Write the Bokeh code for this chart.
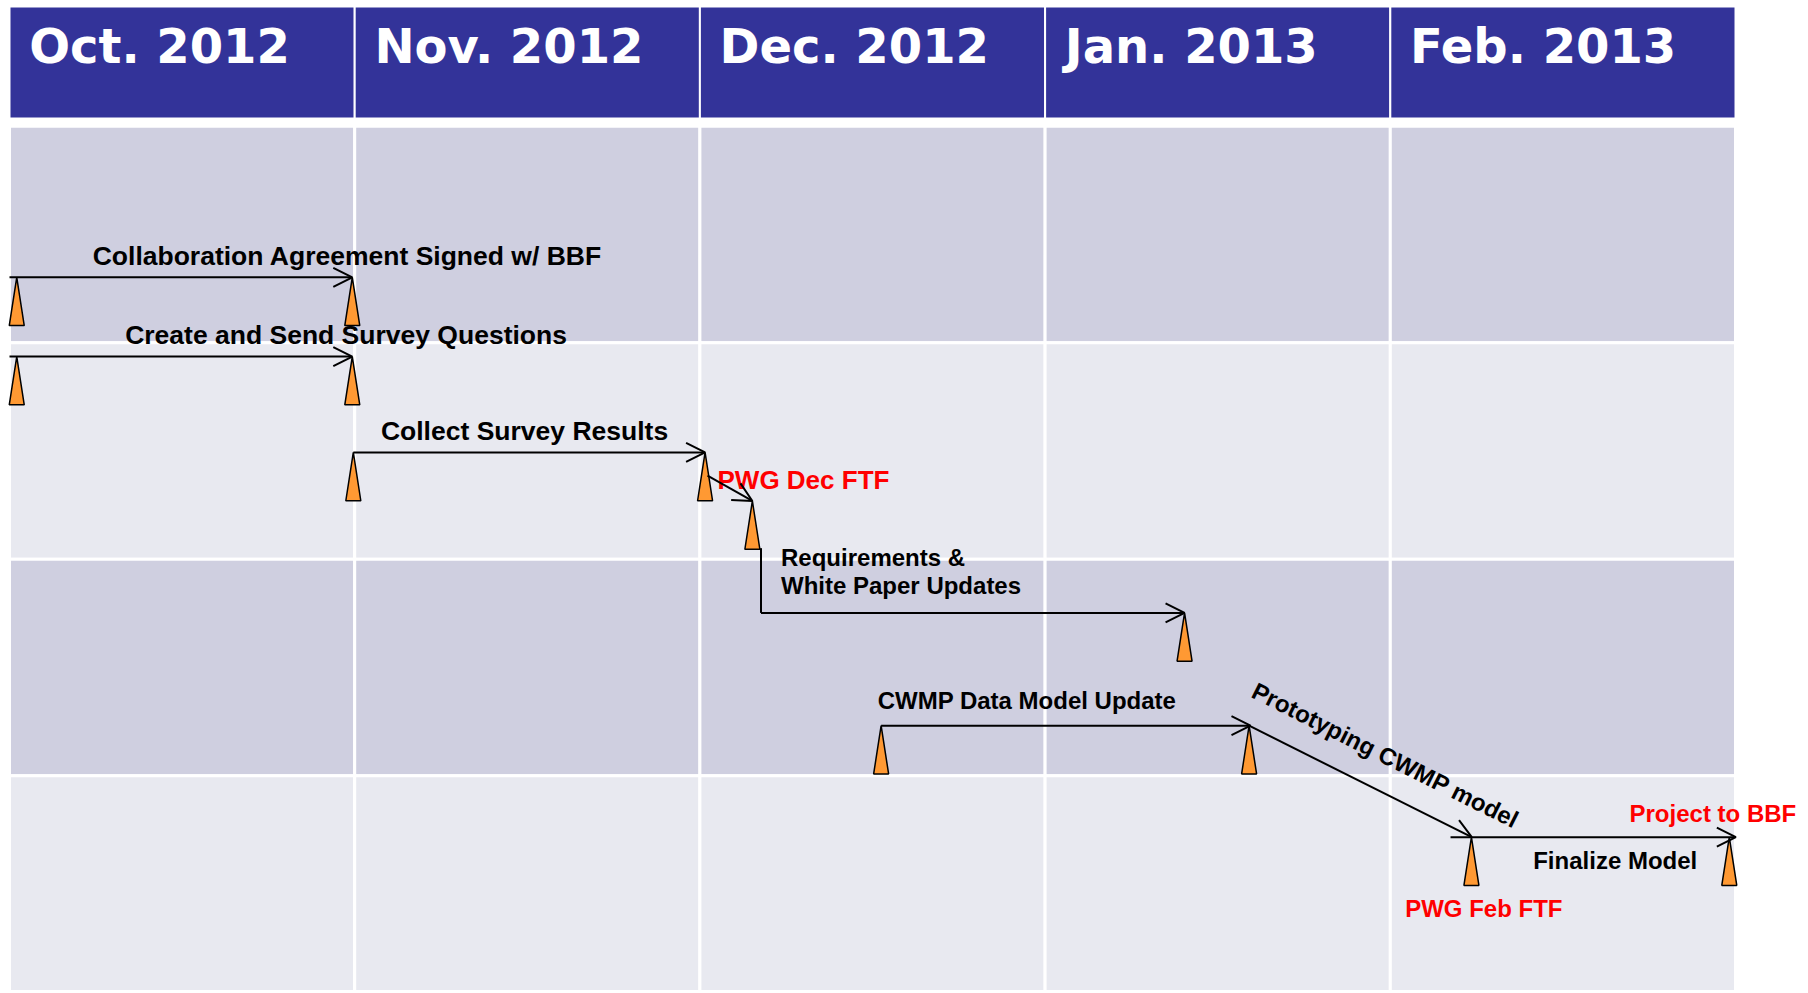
from bokeh.plotting import figure
from bokeh.models import Range1d, ColumnDataSource, Arrow, OpenHead
from bokeh.core.properties import value
from bokeh.embed import file_html
from bokeh.resources import INLINE

# ---------------- data (x in months from Oct 1 2012, y in row units) ----------------
months = ["Oct. 2012", "Nov. 2012", "Dec. 2012", "Jan. 2013", "Feb. 2013"]
row_colors = ["#CFCFE0", "#E8E9F0", "#CFCFE0", "#E8E9F0"]

# milestone triangles (apex position)
ms_x = [0.021, 0.993, 0.021, 0.993, 0.996, 2.015, 2.152, 3.404, 2.525, 3.591, 4.235, 4.982]
ms_y = [0.698, 0.698, 1.064, 1.064, 1.507, 1.507, 1.731, 2.248, 2.769, 2.769, 3.284, 3.284]

# arrows with open heads
ar_x0 = [0.000, 0.000, 0.996, 2.022, 2.177, 2.525, 3.591, 4.235]
ar_y0 = [0.698, 1.064, 1.507, 1.614, 2.248, 2.769, 2.769, 3.284]
ar_x1 = [0.993, 0.993, 2.015, 2.152, 3.404, 3.595, 4.236, 5.001]
ar_y1 = [0.698, 1.064, 1.507, 1.731, 2.248, 2.769, 3.284, 3.284]

# plain connector segment (no head)
seg_x0 = [2.177]
seg_y0 = [1.949]
seg_x1 = [2.177]
seg_y1 = [2.248]

# task labels
lab_text = ["Collaboration Agreement Signed w/ BBF", "Create and Send Survey Questions",
            "Collect Survey Results", "Requirements &", "White Paper Updates",
            "CWMP Data Model Update", "Finalize Model"]
lab_x = [0.241, 0.335, 1.076, 2.235, 2.235, 2.515, 4.414]
lab_y = [0.601, 0.966, 1.410, 1.992, 2.121, 2.654, 3.393]
lab_size = ["26.5px", "26.5px", "26.5px", "24px", "24px", "24px", "24px"]

# meeting labels (red)
mt_text = ["PWG Dec FTF", "Project to BBF", "PWG Feb FTF"]
mt_x = [2.051, 4.693, 4.043]
mt_y = [1.632, 3.176, 3.614]
mt_size = ["26px", "24px", "24px"]

# rotated label
rot_text = ["Prototyping CWMP model"]
rot_x = [3.986]
rot_y = [2.905]
rot_angle = [-0.465]

# ---------------- figure ----------------
COLW, ROWH, X0, Y0 = 345.2, 216.5, 9.0, 125.7
W, Hh = 1800, 990
p = figure(width=W, height=Hh,
           x_range=Range1d((0 - X0) / COLW, (W - X0) / COLW),
           y_range=Range1d((Hh - Y0) / ROWH, (0 - Y0) / ROWH),
           output_backend="svg", toolbar_location=None, min_border=0)
p.axis.visible = False
p.grid.visible = False
p.outline_line_color = None
p.background_fill_color = "white"
p.border_fill_color = "white"

# header cells
p.quad(left=list(range(len(months))), right=[i + 1 for i in range(len(months))],
       top=[-0.553] * len(months), bottom=[-0.036] * len(months),
       fill_color="#333399", line_color="white", line_width=2)
p.text(x=[i + 0.057 for i in range(len(months))], y=[-0.372] * len(months), text=months,
       text_font=value("DejaVu Sans"), text_font_style="bold", text_font_size="48px",
       text_color="white", text_align="left", text_baseline="alphabetic")

# body cells
cl, cr, ct, cb, cc = [], [], [], [], []
for j, col in enumerate(row_colors):
    for i in range(len(months)):
        cl.append(i); cr.append(i + 1); ct.append(j); cb.append(j + 1); cc.append(col)
p.quad(left=cl, right=cr, top=ct, bottom=cb, fill_color=cc, line_color="white", line_width=3)

# connector segment
p.segment(x0=seg_x0, y0=seg_y0, x1=seg_x1, y1=seg_y1, line_color="black", line_width=2)

# arrows
asrc = ColumnDataSource(dict(x0=ar_x0, y0=ar_y0, x1=ar_x1, y1=ar_y1))
p.add_layout(Arrow(end=OpenHead(size=19, line_width=2, line_color="black"),
                   x_start="x0", y_start="y0", x_end="x1", y_end="y1",
                   source=asrc, line_width=2, line_color="black", level="glyph"))

# milestone triangles
HW, H = 0.0217, 0.223
xs = [[x - HW, x, x + HW] for x in ms_x]
ys = [[y + H, y, y + H] for y in ms_y]
p.patches(xs=xs, ys=ys, fill_color="#FF9933", line_color="black", line_width=1.5)

# labels
p.text(x=lab_x, y=lab_y, text=lab_text, text_font=value("Liberation Sans"),
       text_font_style="bold", text_font_size=lab_size, text_color="black",
       text_align="left", text_baseline="alphabetic")
p.text(x=mt_x, y=mt_y, text=mt_text, text_font=value("Liberation Sans"),
       text_font_style="bold", text_font_size=mt_size, text_color="#FF0000",
       text_align="left", text_baseline="alphabetic")
p.text(x=rot_x, y=rot_y, text=rot_text, angle=rot_angle, text_font=value("Liberation Sans"),
       text_font_style="bold", text_font_size="24px", text_color="black",
       text_align="center", text_baseline="middle")

open("out.html", "w").write(file_html(p, INLINE))
